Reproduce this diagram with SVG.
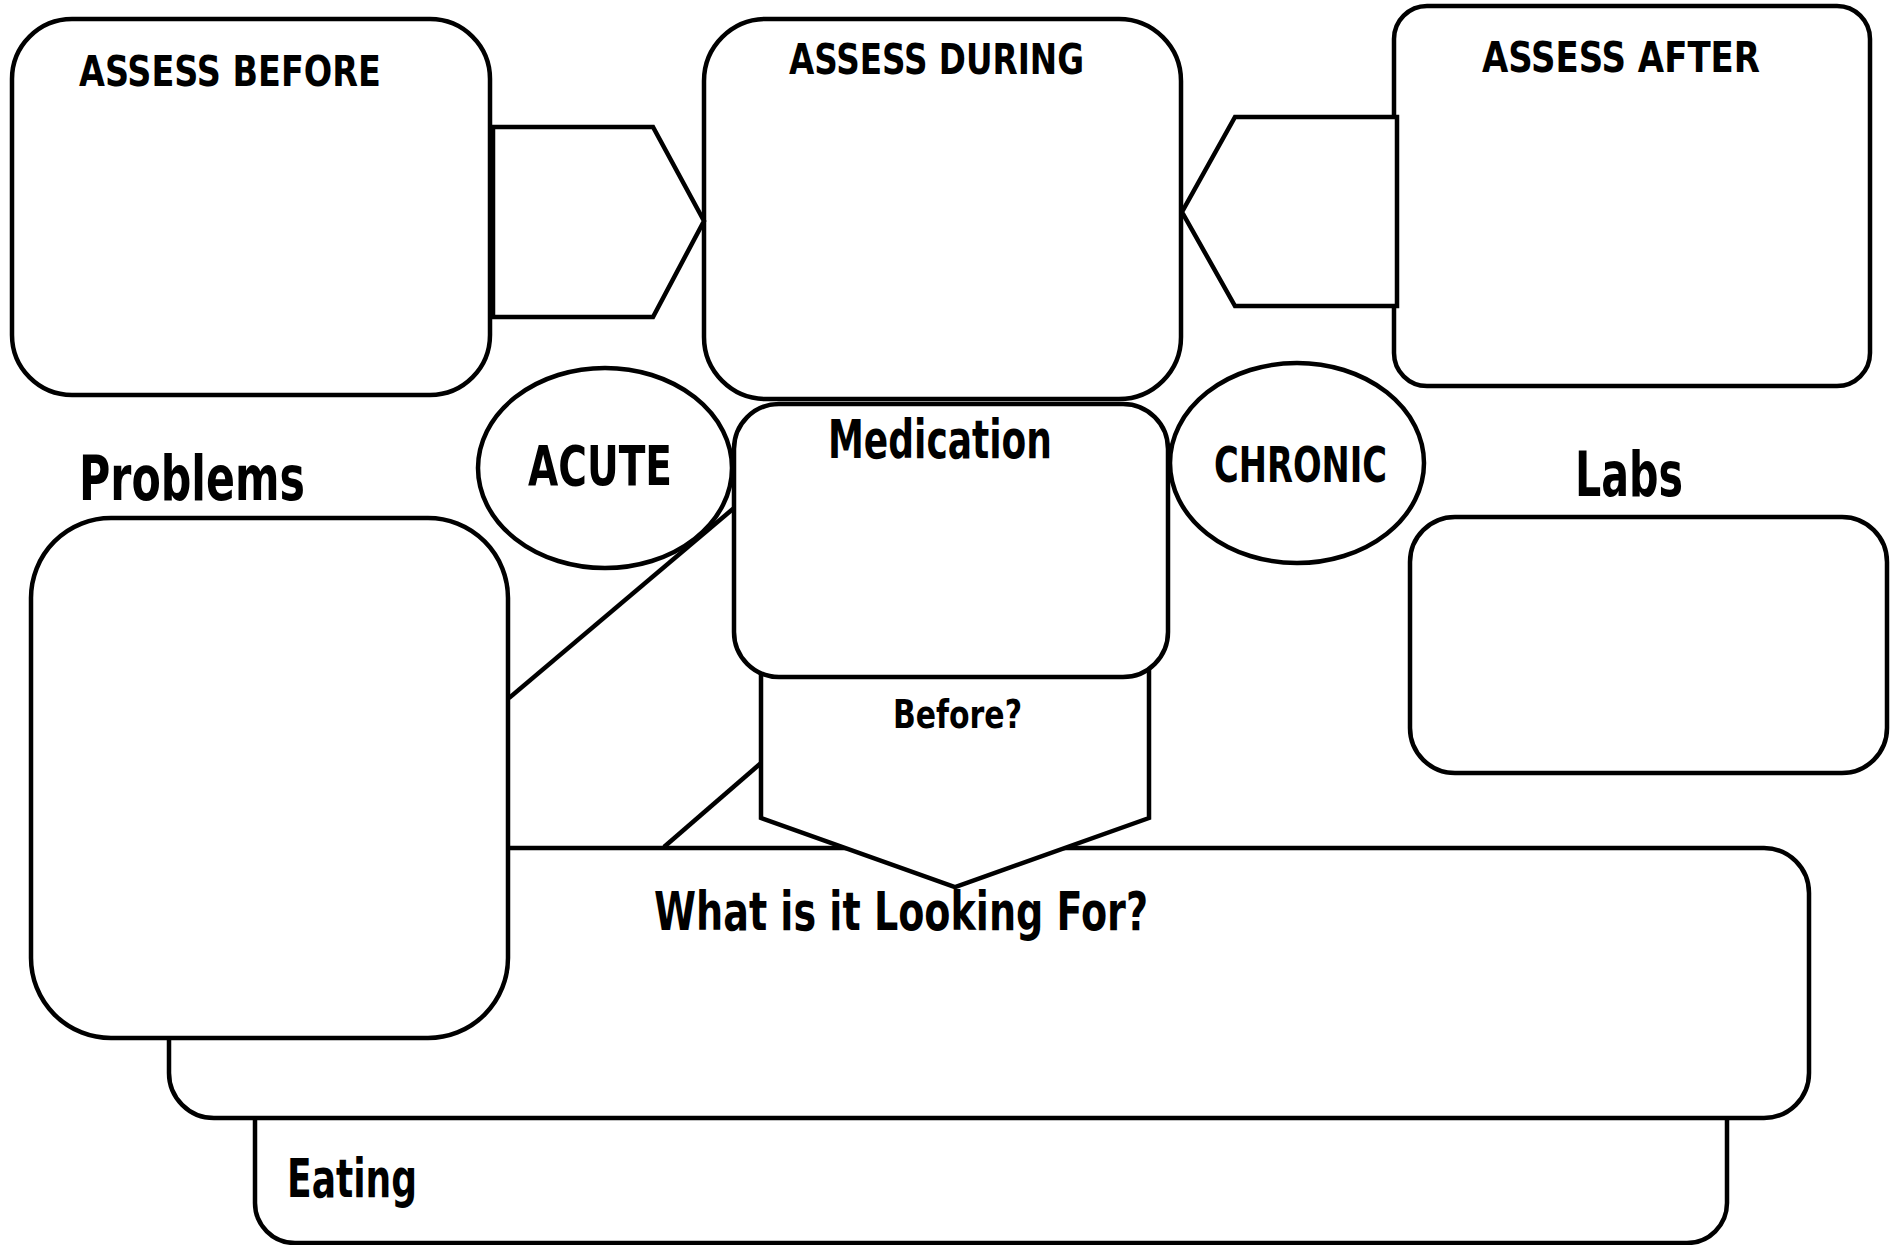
<svg xmlns="http://www.w3.org/2000/svg" width="1896" height="1245" viewBox="0 0 1896 1245">
  <style>
    .shape { fill: #ffffff; stroke: #000000; stroke-width: 4.5; stroke-linejoin: miter; }
    .line { fill: none; stroke: #000000; stroke-width: 4.5; stroke-linecap: butt; }
    .lbl { font-family: "Liberation Sans Narrow", "DejaVu Sans Condensed", "Liberation Sans", sans-serif; font-weight: bold; fill: #000000; }
  </style>
  <rect width="1896" height="1245" fill="#ffffff"/>

  <!-- bottom strip, partly covered by the box above it -->
  <g id="eating">
    <rect class="shape" x="255" y="1060" width="1472" height="183" rx="40" ry="40"/>
    <text class="lbl" x="287" y="1197" font-size="54" textLength="130" lengthAdjust="spacingAndGlyphs">Eating</text>
  </g>

  <g id="looking-for">
    <rect class="shape" x="169" y="848" width="1640" height="270" rx="45" ry="45"/>
    <text class="lbl" x="654" y="930" font-size="53" textLength="494" lengthAdjust="spacingAndGlyphs">What is it Looking For?</text>
  </g>

  <g id="problems">
    <rect class="shape" x="31" y="518" width="477" height="520" rx="80" ry="80"/>
    <text class="lbl" x="79" y="500" font-size="63" textLength="226" lengthAdjust="spacingAndGlyphs">Problems</text>
  </g>

  <g id="labs">
    <rect class="shape" x="1410" y="517" width="477" height="256" rx="45" ry="45"/>
    <text class="lbl" x="1575" y="496" font-size="63" textLength="108" lengthAdjust="spacingAndGlyphs">Labs</text>
  </g>

  <g id="assess-before">
    <rect class="shape" x="12" y="19" width="478" height="376" rx="60" ry="60"/>
    <text class="lbl" x="79" y="86" font-size="43" textLength="302" lengthAdjust="spacingAndGlyphs">ASSESS BEFORE</text>
  </g>

  <g id="assess-during">
    <rect class="shape" x="704" y="19" width="477" height="380" rx="62" ry="62"/>
    <text class="lbl" x="789" y="74" font-size="43" textLength="295" lengthAdjust="spacingAndGlyphs">ASSESS DURING</text>
  </g>

  <g id="assess-after">
    <rect class="shape" x="1394" y="6" width="476" height="380" rx="33" ry="33"/>
    <text class="lbl" x="1482" y="72" font-size="43" textLength="278" lengthAdjust="spacingAndGlyphs">ASSESS AFTER</text>
  </g>

  <g id="acute">
    <ellipse class="shape" cx="605" cy="468" rx="127" ry="100"/>
    <text class="lbl" x="528" y="485" font-size="56" textLength="144" lengthAdjust="spacingAndGlyphs">ACUTE</text>
  </g>

  <g id="chronic">
    <ellipse class="shape" cx="1297" cy="463" rx="127" ry="100"/>
    <text class="lbl" x="1214" y="482" font-size="49" textLength="173" lengthAdjust="spacingAndGlyphs">CHRONIC</text>
  </g>

  <!-- downward pointer hanging below the medication box -->
  <g id="before">
    <polygon class="shape" points="761,650 761,818 955,887 1149,818 1149,650"/>
    <text class="lbl" x="893" y="728" font-size="39" textLength="129" lengthAdjust="spacingAndGlyphs">Before?</text>
  </g>

  <g id="medication">
    <rect class="shape" x="734" y="404" width="434" height="273" rx="45" ry="45"/>
    <text class="lbl" x="828" y="458" font-size="53" textLength="224" lengthAdjust="spacingAndGlyphs">Medication</text>
  </g>

  <g id="connectors">
    <!-- block arrows between the assessment boxes -->
    <polygon class="shape" points="493,127 653,127 704,221 653,317 493,317"/>
    <polygon class="shape" points="1397,117 1235,117 1182,212 1235,306 1397,306"/>
    <!-- diagonal links -->
    <line class="line" x1="509" y1="698" x2="734" y2="508"/>
    <line class="line" x1="664" y1="847" x2="761" y2="763"/>
  </g>
</svg>
